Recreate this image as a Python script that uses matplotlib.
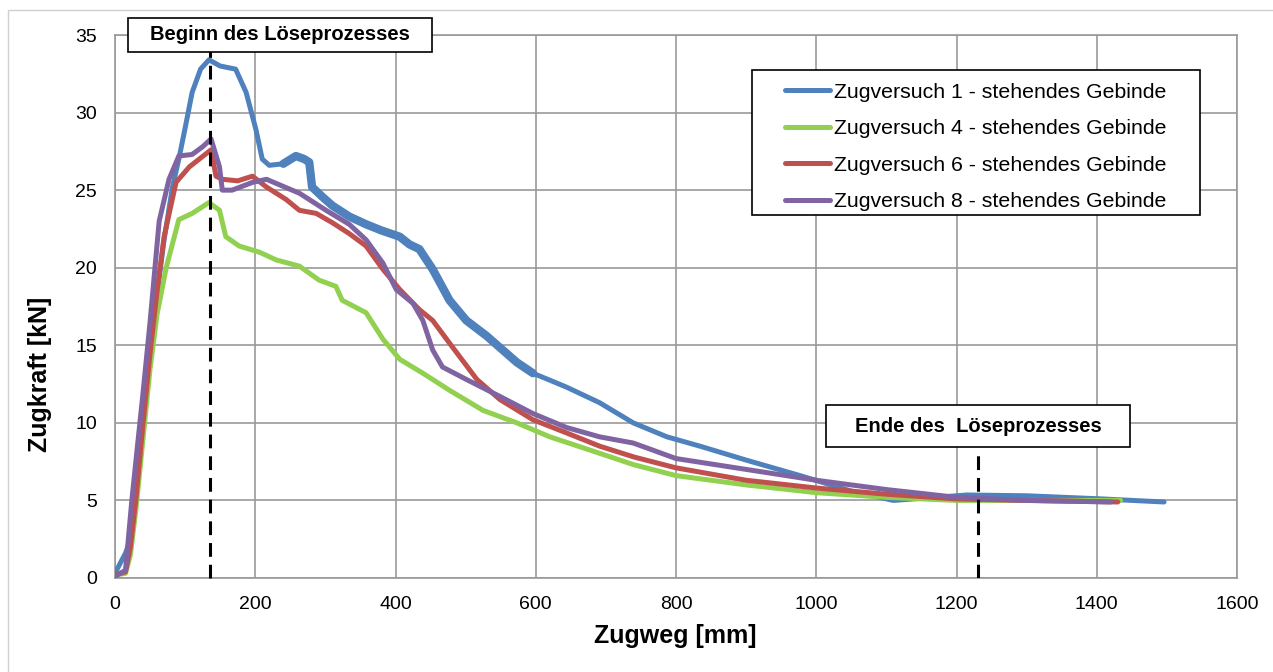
import numpy as np
import matplotlib.pyplot as plt
from matplotlib.patches import Rectangle

plt.rcParams['font.family'] = ['Liberation Sans', 'DejaVu Sans']

# Zugversuch 1 - stehendes Gebinde
x1 = [0, 8, 15, 22, 30, 40, 50, 60, 70, 82, 91, 100, 110, 122, 134, 150, 172, 187, 201, 210,
      220, 240, 258, 270, 277, 281, 295, 310, 334, 358, 380, 406, 420, 434, 453, 477, 501, 530,
      573, 596, 644, 691, 739, 787, 834, 900, 977, 1050, 1110, 1215, 1300, 1406, 1496]
y1 = [0.3, 1.0, 1.6, 2.5, 5.5, 10.0, 14.5, 18.3, 21.8, 25.2, 27.0, 29.0, 31.3, 32.8, 33.4, 33.0, 32.8, 31.3, 28.9, 27.0,
      26.6, 26.7, 27.2, 27.0, 26.8, 25.2, 24.6, 24.0, 23.3, 22.8, 22.4, 22.0, 21.5, 21.2, 19.9, 17.9, 16.6, 15.6,
      13.9, 13.2, 12.3, 11.3, 10.0, 9.1, 8.5, 7.6, 6.6, 5.6, 5.0, 5.35, 5.3, 5.1, 4.9]
# range where the measured signal of test 1 is very noisy (drawn as a wider band)
noisy1 = (225, 600)

# Zugversuch 4 - stehendes Gebinde
x4 = [0, 15, 22, 30, 40, 50, 60, 73, 91, 110, 134, 149, 158, 177, 206, 230, 263, 291, 315,
      324, 358, 382, 406, 439, 477, 525, 573, 620, 667, 740, 800, 900, 1000, 1100, 1200, 1300, 1434]
y4 = [0.2, 0.3, 1.5, 4.5, 9.0, 13.5, 17.0, 20.0, 23.1, 23.5, 24.2, 23.7, 22.0, 21.4, 21.0, 20.5, 20.1, 19.2, 18.8,
      17.9, 17.1, 15.4, 14.1, 13.2, 12.1, 10.8, 10.0, 9.1, 8.4, 7.3, 6.6, 6.0, 5.5, 5.2, 5.0, 5.0, 5.0]

# Zugversuch 6 - stehendes Gebinde
x6 = [0, 15, 22, 30, 40, 50, 60, 70, 87, 106, 137, 144, 153, 175, 196, 216, 244, 263, 287,
      310, 334, 358, 382, 406, 434, 453, 481, 516, 549, 596, 644, 691, 740, 800, 900, 1000, 1100,
      1200, 1300, 1430]
y6 = [0.2, 0.4, 2.0, 5.2, 10.0, 14.5, 18.5, 22.0, 25.5, 26.5, 27.6, 25.9, 25.7, 25.6, 25.9, 25.2, 24.4, 23.7, 23.5,
      22.9, 22.2, 21.4, 19.9, 18.6, 17.3, 16.6, 14.9, 12.8, 11.5, 10.2, 9.35, 8.5, 7.8, 7.1, 6.3, 5.8, 5.4,
      5.1, 5.0, 4.9]

# Zugversuch 8 - stehendes Gebinde
x8 = [0, 15, 24, 32, 39, 50, 63, 77, 91, 110, 125, 137, 149, 153, 167, 196, 216, 263, 301,
      334, 358, 382, 401, 425, 439, 453, 467, 501, 549, 596, 644, 691, 739, 800, 900, 1000, 1100,
      1200, 1300, 1420]
y8 = [0.1, 0.5, 5.0, 8.5, 11.5, 16.5, 23.0, 25.7, 27.2, 27.3, 27.8, 28.3, 26.5, 25.0, 25.0, 25.5, 25.7, 24.8, 23.7,
      22.8, 21.8, 20.3, 18.6, 17.7, 16.6, 14.7, 13.6, 12.8, 11.7, 10.6, 9.7, 9.1, 8.7, 7.7, 7.0, 6.3, 5.7,
      5.2, 5.0, 4.9]

labels = ['Zugversuch 1 - stehendes Gebinde', 'Zugversuch 4 - stehendes Gebinde',
          'Zugversuch 6 - stehendes Gebinde', 'Zugversuch 8 - stehendes Gebinde']
colors = ['#4F81BD', '#92D050', '#C0504D', '#8064A2']

beginn_x = 135
ende_x = 1230
beginn_text = 'Beginn des Löseprozesses'
ende_text = 'Ende des  Löseprozesses'

W, H = 1273, 672
L, R, T, B = 115, 1237, 35, 578

fig = plt.figure(figsize=(W / 100, H / 100), dpi=100)
fig.patches.append(Rectangle((8 / W, -0.1), 1.2, 1.1 - 10 / H, transform=fig.transFigure,
                             fill=False, edgecolor='#D0D0D0', linewidth=1))
ax = fig.add_axes([L / W, 1 - B / H, (R - L) / W, (B - T) / H])


def px2ax(px, py):
    return (px - L) / (R - L), (B - py) / (B - T)


for xs, ys, c, lab in zip([x1, x4, x6, x8], [y1, y4, y6, y8], colors, labels):
    ax.plot(xs, ys, color=c, lw=3.6, label=lab, solid_capstyle='round', zorder=3)

# wider band for the noisy part of test 1
x1a = np.array(x1)
m = (x1a >= noisy1[0]) & (x1a <= noisy1[1])
ax.plot(x1a[m], np.array(y1)[m], color=colors[0], lw=6.0, solid_capstyle='round', zorder=3)

dash = (0, (4.5, 2.6))
ax.plot([beginn_x, beginn_x], [0, 34.0], color='black', lw=2.2, ls=dash, clip_on=False, zorder=4)
ax.plot([ende_x, ende_x], [0, 8.4], color='black', lw=2.2, ls=dash, zorder=4)

# text boxes
for (x0, y0, x1b, y1b), txt in [((128, 18, 432, 52), beginn_text), ((826, 405, 1130, 447), ende_text)]:
    ax0, ay0 = px2ax(x0, y1b)
    ax1, ay1 = px2ax(x1b, y0)
    ax.add_patch(Rectangle((ax0, ay0), ax1 - ax0, ay1 - ay0, transform=ax.transAxes, facecolor='white',
                           edgecolor='black', lw=1.2, clip_on=False, zorder=6))
    ax.text((ax0 + ax1) / 2, (ay0 + ay1) / 2, txt, transform=ax.transAxes, ha='center', va='center',
            fontsize=14.5, fontweight='bold', zorder=7)

ax.set_xlim(0, 1600)
ax.set_ylim(0, 35)
ax.set_xticks(np.arange(0, 1601, 200))
ax.set_yticks(np.arange(0, 36, 5))
ax.grid(True, color='#999999', lw=1.2)
ax.set_axisbelow(True)
for s in ax.spines.values():
    s.set_color('#999999')
    s.set_linewidth(1.2)
ax.tick_params(length=0, labelsize=14, pad=13)
ax.set_xlabel('Zugweg [mm]', fontsize=18, fontweight='bold', va='center')
ax.set_ylabel('Zugkraft [kN]', fontsize=18, fontweight='bold', va='center')
ax.xaxis.set_label_coords(*px2ax(675, 636))
ax.yaxis.set_label_coords(*px2ax(40, 374))

# legend with separate frame
lx0, ly0 = px2ax(752, 215)
lx1, ly1 = px2ax(1200, 70)
ax.add_patch(Rectangle((lx0, ly0), lx1 - lx0, ly1 - ly0, transform=ax.transAxes, facecolor='white',
                       edgecolor='black', lw=1.2, zorder=6))
lc = px2ax(976, 147)
leg = ax.legend(loc='center', bbox_to_anchor=lc, frameon=False,
                fontsize=15.3, handlelength=2.1, handletextpad=0.2, labelspacing=0.82, borderpad=0)
leg.set_zorder(7)
for ln in leg.get_lines():
    ln.set_linewidth(3.6)

fig.savefig('out.png', dpi=100)
